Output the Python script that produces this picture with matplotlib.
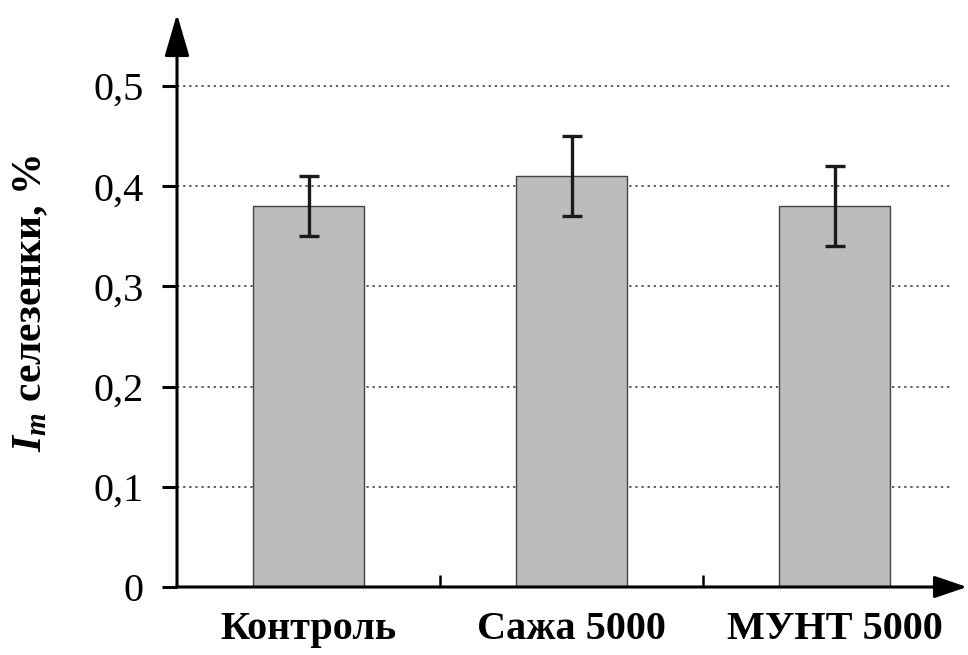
import matplotlib
matplotlib.use("Agg")
import matplotlib.pyplot as plt
from matplotlib.patches import FancyArrowPatch

categories = ["Контроль", "Сажа 5000", "МУНТ 5000"]
values = [0.38, 0.41, 0.38]
errors = [0.03, 0.04, 0.04]
yticks = [0, 0.1, 0.2, 0.3, 0.4, 0.5]
ytick_labels = ["0", "0,1", "0,2", "0,3", "0,4", "0,5"]

plt.rcParams["font.family"] = ["Liberation Serif", "DejaVu Serif"]
plt.rcParams["mathtext.fontset"] = "custom"
plt.rcParams["mathtext.it"] = "Liberation Serif:italic:bold"
plt.rcParams["mathtext.rm"] = "Liberation Serif:bold"

W, H = 968, 655
fig = plt.figure(figsize=(W / 100, H / 100), dpi=100)

x0_px, x1_px = 177, 950
y0_px = 587
unit_px = 1002  # pixels per 1.0 on the y axis
ymax = 0.55
top_px = y0_px - ymax * unit_px
ax = fig.add_axes([x0_px / W, 1 - y0_px / H, (x1_px - x0_px) / W, (y0_px - top_px) / H])

xs = list(range(len(categories)))
ax.bar(xs, values, width=0.42, color="#bcbcbc", edgecolor="#444444", linewidth=1.0, zorder=3)
ax.errorbar(xs, values, yerr=errors, fmt="none", ecolor="#1a1a1a", elinewidth=2.4,
            capsize=7.5, capthick=2.4, zorder=4)

ax.set_xlim(-0.5, -0.5 + (x1_px - x0_px) / 263)
ax.set_ylim(0, ymax)

for s in ax.spines.values():
    s.set_visible(False)

ax.set_yticks(yticks)
ax.set_yticklabels(ytick_labels, fontsize=29)
ax.tick_params(axis="y", direction="out", length=11, width=2.2, pad=13, color="black")

ax.set_xticks(xs)
ax.set_xticklabels(categories, fontsize=29, fontweight="bold")
ax.tick_params(axis="x", which="major", length=0, pad=17)
ax.set_xticks([0.5, 1.5], minor=True)
ax.tick_params(axis="x", which="minor", direction="in", length=9, width=1.8, color="black")

ax.yaxis.grid(True, linestyle=(0, (1.5, 2.5)), color="#333333", linewidth=1.1, zorder=0)
ax.set_axisbelow(True)
for gl, t in zip(ax.get_ygridlines(), yticks):
    if t == 0:
        gl.set_visible(False)

# axis lines drawn as arrows
ax_x = x0_px / W
ax_y = 1 - y0_px / H
fig.add_artist(FancyArrowPatch(
    (ax_x, ax_y), (ax_x, 1 - 14 / H), transform=fig.transFigure,
    arrowstyle="-|>,head_length=1.3,head_width=0.38", color="black", lw=2.2,
    shrinkA=0, shrinkB=0, mutation_scale=20, zorder=5))
fig.add_artist(FancyArrowPatch(
    (ax_x - 1 / W, ax_y), (967 / W, ax_y), transform=fig.transFigure,
    arrowstyle="-|>,head_length=1.0,head_width=0.34", color="black", lw=2.2,
    shrinkA=0, shrinkB=0, mutation_scale=20, zorder=5))

fig.text(31 / W, 1 - 303 / H, r"$I_m$ селезенки, %", fontsize=30, fontweight="bold",
         rotation=90, ha="center", va="center")

fig.savefig("out.png", dpi=100)
